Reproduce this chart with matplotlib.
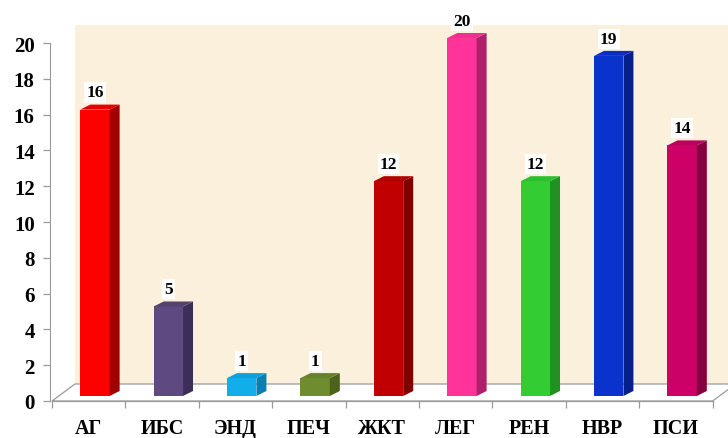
import matplotlib
matplotlib.use("Agg")
import matplotlib.pyplot as plt
from matplotlib.patches import Polygon, Rectangle
import numpy as np

categories = ["АГ", "ИБС", "ЭНД", "ПЕЧ", "ЖКТ", "ЛЕГ", "РЕН", "НВР", "ПСИ"]
values = [16, 5, 1, 1, 12, 20, 12, 19, 14]
front_colors = ["#FF0000", "#5E4A80", "#12AEEC", "#6F8C2E", "#C00000",
                "#FF3399", "#33CC33", "#0A32CC", "#CC0066"]
side_colors = ["#A00000", "#3C2E58", "#0A7FB0", "#4A621C", "#7E0000",
               "#B0206A", "#219121", "#05208A", "#85003F"]
top_colors = ["#E80000", "#54426F", "#10A0DA", "#66822A", "#B00000",
              "#F0308E", "#2FBE2F", "#0A2EBE", "#BC005E"]
yticks = list(range(0, 21, 2))

plt.rcParams['font.family'] = ['Liberation Serif', 'DejaVu Serif']

W, H = 728, 439
fig = plt.figure(figsize=(W / 100, H / 100), dpi=100)
px_unit = 17.9
cat_px = 73.4
ax_left_px = 50
y0_px = 402
ymin, ymax = -2.0, 21.8
bottom_px = y0_px + (-ymin) * px_unit
top_px = y0_px - ymax * px_unit
ax = fig.add_axes([ax_left_px / W, (H - bottom_px) / H, (W - ax_left_px) / W,
                   (bottom_px - top_px) / H])
xmin = -0.5 - 2 / cat_px
xmax = xmin + (W - ax_left_px) / cat_px
ax.set_xlim(xmin, xmax)
ax.set_ylim(ymin, ymax)
ax.patch.set_alpha(0)

n = len(categories)
fdx, fdy = 23 / cat_px, 17 / px_unit
wall_color = "#FBF0DC"
edge = "#9A9A9A"
# back wall
ax.add_patch(Rectangle((-0.5 + fdx, fdy), 20, 21.0 - fdy, facecolor=wall_color,
                       edgecolor='none', zorder=0))
# floor
floor = Polygon([(-0.5, 0), (n - 0.5, 0), (n - 0.5 + fdx, fdy), (-0.5 + fdx, fdy)],
                closed=True, facecolor="white", edgecolor=edge, lw=0.9, zorder=1)
ax.add_patch(floor)

# bars
x = np.arange(n)
shift = 0.085
bw = 0.40
base = 0.28
dx, dy = 10 / cat_px, 5 / px_unit
ax.bar(x + shift, values, width=bw, bottom=base, color=front_colors,
       edgecolor='none', zorder=3)
for i, v in enumerate(values):
    xl = x[i] + shift - bw / 2
    xr = x[i] + shift + bw / 2
    t = base + v
    ax.add_patch(Polygon([(xr, base), (xr + dx, base + dy), (xr + dx, t + dy), (xr, t)],
                         closed=True, facecolor=side_colors[i], edgecolor='none', zorder=3))
    ax.add_patch(Polygon([(xl, t), (xl + dx, t + dy), (xr + dx, t + dy), (xr, t)],
                         closed=True, facecolor=top_colors[i], edgecolor='none', zorder=3))
    ax.annotate(str(v), (x[i] + shift, t + dy), xytext=(0, 3), textcoords='offset points',
                ha='center', va='bottom', fontsize=12.5, fontweight='bold', color='black',
                zorder=5,
                bbox=dict(boxstyle='square,pad=0.12', facecolor='white', edgecolor='none'))

# axes styling
for s in ['top', 'right']:
    ax.spines[s].set_visible(False)
ax.spines['left'].set_bounds(0, 20)
ax.spines['left'].set_color(edge)
ax.spines['bottom'].set_position(('data', 0))
ax.spines['bottom'].set_bounds(-0.5, n - 0.5)
ax.spines['bottom'].set_color(edge)
ax.spines['bottom'].set_linewidth(0.9)
ax.spines['bottom'].set_zorder(2)

ax.set_yticks(yticks)
ax.set_yticklabels([str(t) for t in yticks], fontsize=15, fontweight='bold')
ax.tick_params(axis='y', direction='out', length=5, width=0.9, color=edge, pad=6)

ax.set_xticks(x)
ax.set_xticklabels(categories, fontsize=14.5, fontweight='bold')
ax.tick_params(axis='x', which='major', length=0, pad=12)
ax.set_xticks(np.arange(n + 1) - 0.5, minor=True)
ax.tick_params(axis='x', which='minor', direction='out', length=5, width=0.9, color=edge)

fig.savefig("out.png", dpi=100, facecolor='white')
